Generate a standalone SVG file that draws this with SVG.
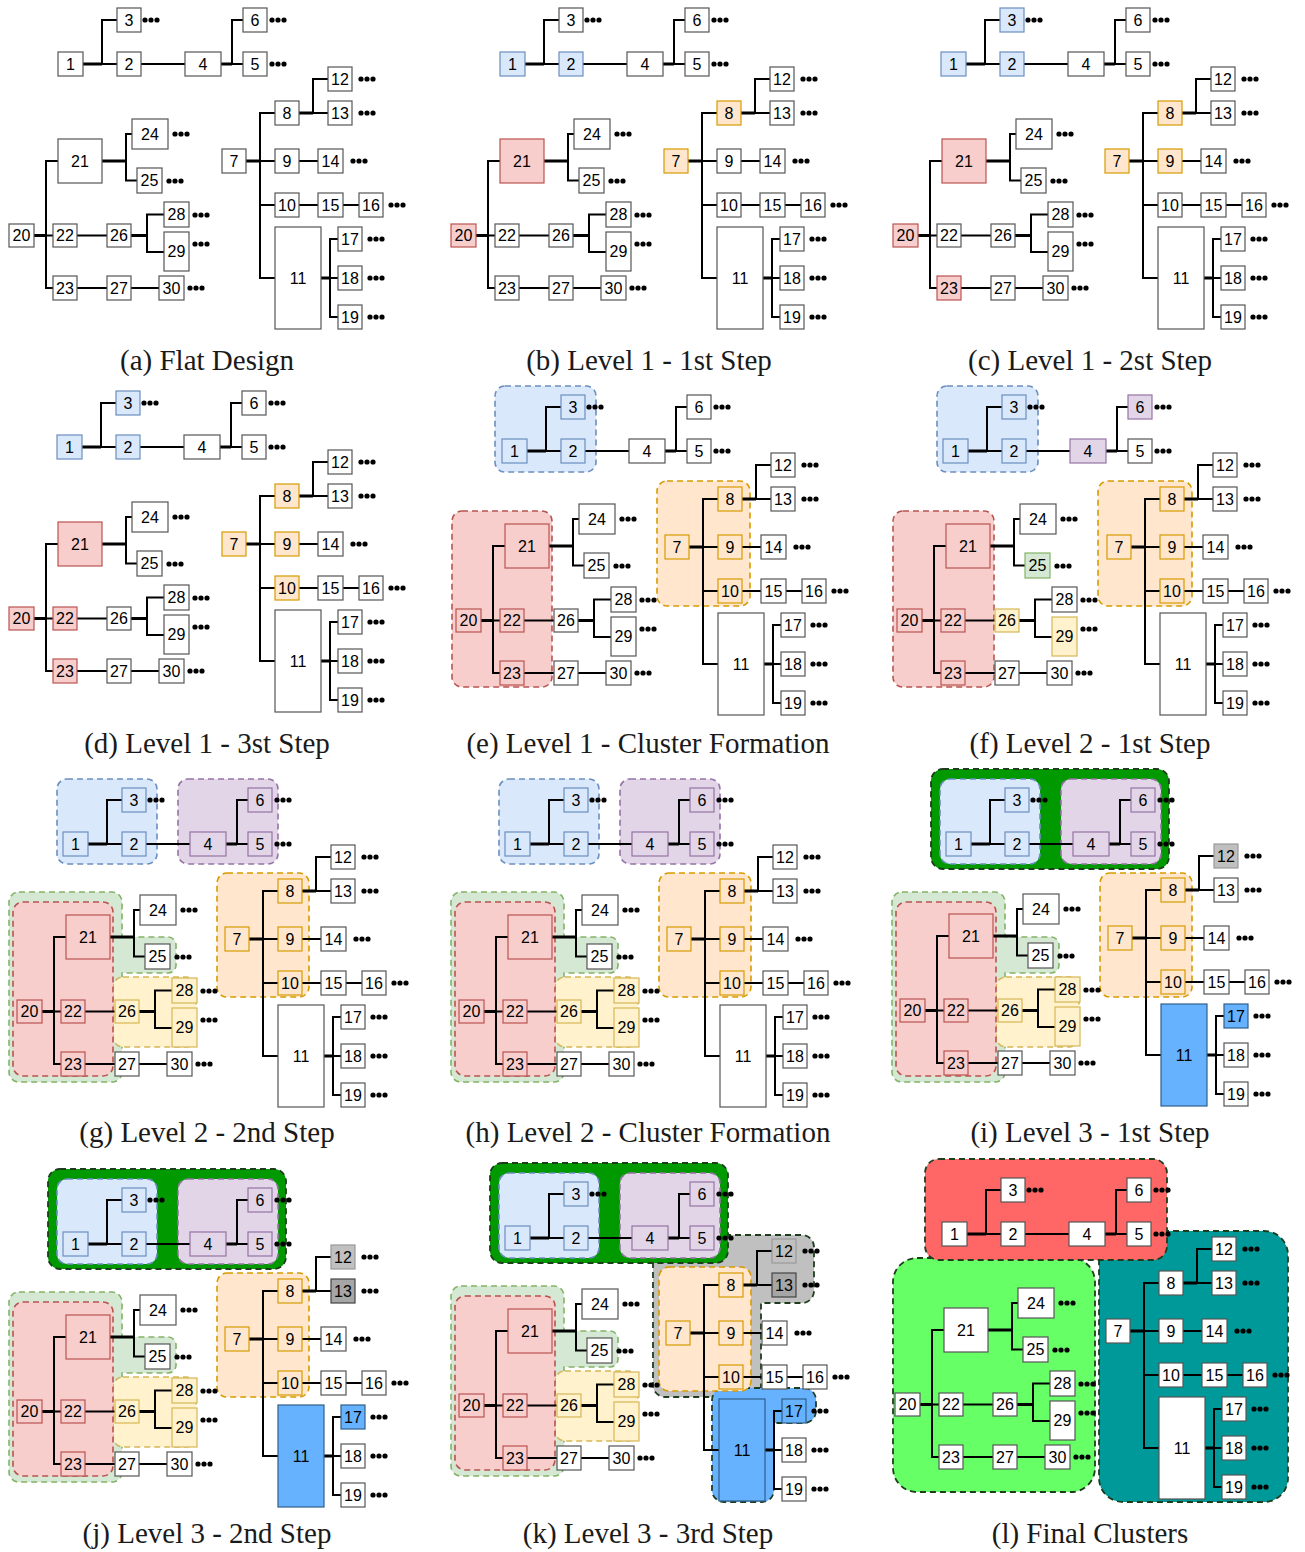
<svg xmlns="http://www.w3.org/2000/svg" xmlns:xlink="http://www.w3.org/1999/xlink" width="1305" height="1552" viewBox="0 0 1305 1552">
<style>
text{font-family:"Liberation Sans",Arial,sans-serif;font-size:16px;text-anchor:middle;fill:#000}
.cap{font-family:"Liberation Serif","Times New Roman",serif;font-size:29px;fill:#1a1a1a}
.nd rect{fill:#fff;stroke:#555;stroke-width:1.2}
.nd .B rect{fill:#dae8fc;stroke:#6c8ebf}
.nd .O rect{fill:#ffe6cc;stroke:#d79b00}
.nd .R rect{fill:#f8cecc;stroke:#b85450}
.nd .G rect{fill:#d5e8d4;stroke:#82b366}
.nd .Y rect{fill:#fff2cc;stroke:#d6b656}
.nd .P rect{fill:#e1d5e7;stroke:#9673a6}
.nd .S rect{fill:#c0c0c0;stroke:#999}
.nd .D rect{fill:#a6a6a6;stroke:#444}
.nd .U rect{fill:#66b2ff;stroke:#2f5f8a}
.wt{fill:none;stroke:#000;stroke-width:2;stroke-linecap:square}
.wk{fill:none;stroke:#000;stroke-width:3}
.cl{stroke-width:1.6;stroke-dasharray:6 4}
.cB{fill:#dae8fc;stroke:#6c8ebf}
.cO{fill:#ffe6cc;stroke:#d79b00}
.cR{fill:#f8cecc;stroke:#b85450}
.cG{fill:#d5e8d4;stroke:#82b366}
.cY{fill:#fff2cc;stroke:#d6b656}
.cP{fill:#e1d5e7;stroke:#9673a6}
.kd{stroke:#1d3d1d;stroke-width:1.8;stroke-dasharray:6 4}
.cK{fill:#009900}
.cS{fill:#c0c0c0}
.cU{fill:#66b2ff}
.fR{fill:#ff6666}
.fG{fill:#66ff66}
.fT{fill:#009999}
.dots circle{fill:#000}
</style>
<defs>
<g id="wT"><path class="wt" d="M83,64H117M102,64V20H117M141,64H185M221,64H243M232,64V20H243"/><path class="wk" d="M83,64H102M221,64H232"/></g>
<g id="wR"><path class="wt" d="M260,113V278M260,113H275M246,161H275M260,205H275M260,278H275M299,113H328M313,113V79H328M299,161H318M299,205H318M343,205H359M321,278H338M330,239V317M330,239H338M330,317H338"/><path class="wk" d="M246,161H260M299,113H313M321,278H330"/></g>
<g id="wL"><path class="wt" d="M46,161V288M46,161H58M34,235.5H53M46,288H53M77,235.5H107M126,134V180.5M126,134H132M126,180.5H137M147,214.5V252M147,214.5H164M147,252H164M77,288H107M131,288H159"/><path class="wk" d="M34,235.5H46M102,161H126M131,235.5H147"/></g>
<g id="d3"><circle cx="0" cy="0" r="2.6"/><circle cx="6" cy="0" r="2.6"/><circle cx="12" cy="0" r="2.6"/></g>
<g id="dT"><use href="#d3" x="145" y="20"/><use href="#d3" x="272" y="20"/><use href="#d3" x="272" y="64"/></g>
<g id="dR"><use href="#d3" x="361" y="79"/><use href="#d3" x="361" y="113"/><use href="#d3" x="353" y="161"/><use href="#d3" x="391" y="205"/><use href="#d3" x="370" y="239"/><use href="#d3" x="370" y="278"/><use href="#d3" x="370" y="317"/></g>
<g id="dL"><use href="#d3" x="175" y="134"/><use href="#d3" x="169" y="181"/><use href="#d3" x="195" y="215"/><use href="#d3" x="195" y="244"/><use href="#d3" x="190" y="288"/></g>
</defs>

<!-- ===== (a) ===== -->
<g id="panel-a">
<g id="a-connectors"><use href="#wT"/><use href="#wR"/><use href="#wL"/></g>
<g id="a-dots" class="dots"><use href="#dT"/><use href="#dR"/><use href="#dL"/></g>
<g class="nd">
<g id="a-n1"><rect x="58" y="52" width="25" height="24"/><text x="70.5" y="69.7">1</text></g>
<g id="a-n2"><rect x="117" y="52" width="24" height="24"/><text x="129" y="69.7">2</text></g>
<g id="a-n3"><rect x="117" y="8" width="24" height="24"/><text x="129" y="25.7">3</text></g>
<g id="a-n4"><rect x="185" y="52" width="36" height="24"/><text x="203" y="69.7">4</text></g>
<g id="a-n5"><rect x="243" y="52" width="24" height="24"/><text x="255" y="69.7">5</text></g>
<g id="a-n6"><rect x="243" y="8" width="24" height="24"/><text x="255" y="25.7">6</text></g>
<g id="a-n7"><rect x="222" y="149" width="24" height="24"/><text x="234" y="166.7">7</text></g>
<g id="a-n8"><rect x="275" y="101" width="24" height="24"/><text x="287" y="118.7">8</text></g>
<g id="a-n9"><rect x="275" y="149" width="24" height="24"/><text x="287" y="166.7">9</text></g>
<g id="a-n10"><rect x="275" y="193" width="24" height="24"/><text x="287" y="210.7">10</text></g>
<g id="a-n11"><rect x="275" y="227" width="46" height="102"/><text x="298" y="283.7">11</text></g>
<g id="a-n12"><rect x="328" y="67" width="24" height="24"/><text x="340" y="84.7">12</text></g>
<g id="a-n13"><rect x="328" y="101" width="24" height="24"/><text x="340" y="118.7">13</text></g>
<g id="a-n14"><rect x="318" y="149" width="25" height="24"/><text x="330.5" y="166.7">14</text></g>
<g id="a-n15"><rect x="318" y="193" width="25" height="24"/><text x="330.5" y="210.7">15</text></g>
<g id="a-n16"><rect x="359" y="193" width="24" height="24"/><text x="371" y="210.7">16</text></g>
<g id="a-n17"><rect x="338" y="227" width="24" height="24"/><text x="350" y="244.7">17</text></g>
<g id="a-n18"><rect x="338" y="266" width="24" height="24"/><text x="350" y="283.7">18</text></g>
<g id="a-n19"><rect x="338" y="305" width="24" height="24"/><text x="350" y="322.7">19</text></g>
<g id="a-n20"><rect x="9" y="224" width="25" height="23"/><text x="21.5" y="241.2">20</text></g>
<g id="a-n21"><rect x="58" y="139" width="44" height="44"/><text x="80" y="166.7">21</text></g>
<g id="a-n22"><rect x="53" y="224" width="24" height="23"/><text x="65" y="241.2">22</text></g>
<g id="a-n23"><rect x="53" y="276" width="24" height="24"/><text x="65" y="293.7">23</text></g>
<g id="a-n24"><rect x="132" y="119" width="36" height="30"/><text x="150" y="139.7">24</text></g>
<g id="a-n25"><rect x="137" y="168" width="25" height="25"/><text x="149.5" y="186.2">25</text></g>
<g id="a-n26"><rect x="107" y="224" width="24" height="23"/><text x="119" y="241.2">26</text></g>
<g id="a-n27"><rect x="107" y="276" width="24" height="24"/><text x="119" y="293.7">27</text></g>
<g id="a-n28"><rect x="164" y="202" width="25" height="25"/><text x="176.5" y="220.2">28</text></g>
<g id="a-n29"><rect x="164" y="232" width="25" height="39"/><text x="176.5" y="257.2">29</text></g>
<g id="a-n30"><rect x="159" y="276" width="25" height="24"/><text x="171.5" y="293.7">30</text></g>
</g>
<text class="cap" x="207" y="370">(a) Flat Design</text>
</g>

<!-- ===== (b) ===== -->
<g id="panel-b">
<g id="b-connectors"><use href="#wT" x="442"/><use href="#wR" x="442"/><use href="#wL" x="442"/></g>
<g id="b-dots" class="dots"><use href="#dT" x="442"/><use href="#dR" x="442"/><use href="#dL" x="442"/></g>
<g class="nd" transform="translate(442,0)">
<g id="b-n1" class="B"><rect x="58" y="52" width="25" height="24"/><text x="70.5" y="69.7">1</text></g>
<g id="b-n2" class="B"><rect x="117" y="52" width="24" height="24"/><text x="129" y="69.7">2</text></g>
<g id="b-n3"><rect x="117" y="8" width="24" height="24"/><text x="129" y="25.7">3</text></g>
<g id="b-n4"><rect x="185" y="52" width="36" height="24"/><text x="203" y="69.7">4</text></g>
<g id="b-n5"><rect x="243" y="52" width="24" height="24"/><text x="255" y="69.7">5</text></g>
<g id="b-n6"><rect x="243" y="8" width="24" height="24"/><text x="255" y="25.7">6</text></g>
<g id="b-n7" class="O"><rect x="222" y="149" width="24" height="24"/><text x="234" y="166.7">7</text></g>
<g id="b-n8" class="O"><rect x="275" y="101" width="24" height="24"/><text x="287" y="118.7">8</text></g>
<g id="b-n9"><rect x="275" y="149" width="24" height="24"/><text x="287" y="166.7">9</text></g>
<g id="b-n10"><rect x="275" y="193" width="24" height="24"/><text x="287" y="210.7">10</text></g>
<g id="b-n11"><rect x="275" y="227" width="46" height="102"/><text x="298" y="283.7">11</text></g>
<g id="b-n12"><rect x="328" y="67" width="24" height="24"/><text x="340" y="84.7">12</text></g>
<g id="b-n13"><rect x="328" y="101" width="24" height="24"/><text x="340" y="118.7">13</text></g>
<g id="b-n14"><rect x="318" y="149" width="25" height="24"/><text x="330.5" y="166.7">14</text></g>
<g id="b-n15"><rect x="318" y="193" width="25" height="24"/><text x="330.5" y="210.7">15</text></g>
<g id="b-n16"><rect x="359" y="193" width="24" height="24"/><text x="371" y="210.7">16</text></g>
<g id="b-n17"><rect x="338" y="227" width="24" height="24"/><text x="350" y="244.7">17</text></g>
<g id="b-n18"><rect x="338" y="266" width="24" height="24"/><text x="350" y="283.7">18</text></g>
<g id="b-n19"><rect x="338" y="305" width="24" height="24"/><text x="350" y="322.7">19</text></g>
<g id="b-n20" class="R"><rect x="9" y="224" width="25" height="23"/><text x="21.5" y="241.2">20</text></g>
<g id="b-n21" class="R"><rect x="58" y="139" width="44" height="44"/><text x="80" y="166.7">21</text></g>
<g id="b-n22"><rect x="53" y="224" width="24" height="23"/><text x="65" y="241.2">22</text></g>
<g id="b-n23"><rect x="53" y="276" width="24" height="24"/><text x="65" y="293.7">23</text></g>
<g id="b-n24"><rect x="132" y="119" width="36" height="30"/><text x="150" y="139.7">24</text></g>
<g id="b-n25"><rect x="137" y="168" width="25" height="25"/><text x="149.5" y="186.2">25</text></g>
<g id="b-n26"><rect x="107" y="224" width="24" height="23"/><text x="119" y="241.2">26</text></g>
<g id="b-n27"><rect x="107" y="276" width="24" height="24"/><text x="119" y="293.7">27</text></g>
<g id="b-n28"><rect x="164" y="202" width="25" height="25"/><text x="176.5" y="220.2">28</text></g>
<g id="b-n29"><rect x="164" y="232" width="25" height="39"/><text x="176.5" y="257.2">29</text></g>
<g id="b-n30"><rect x="159" y="276" width="25" height="24"/><text x="171.5" y="293.7">30</text></g>
</g>
<text class="cap" x="649" y="370">(b) Level 1 - 1st Step</text>
</g>

<!-- ===== (c) ===== -->
<g id="panel-c">
<g id="c-connectors"><use href="#wT" x="883"/><use href="#wR" x="883"/><use href="#wL" x="884"/></g>
<g id="c-dots" class="dots"><use href="#dT" x="883"/><use href="#dR" x="883"/><use href="#dL" x="884"/></g>
<g class="nd" transform="translate(883,0)">
<g id="c-n1" class="B"><rect x="58" y="52" width="25" height="24"/><text x="70.5" y="69.7">1</text></g>
<g id="c-n2" class="B"><rect x="117" y="52" width="24" height="24"/><text x="129" y="69.7">2</text></g>
<g id="c-n3" class="B"><rect x="117" y="8" width="24" height="24"/><text x="129" y="25.7">3</text></g>
<g id="c-n4"><rect x="185" y="52" width="36" height="24"/><text x="203" y="69.7">4</text></g>
<g id="c-n5"><rect x="243" y="52" width="24" height="24"/><text x="255" y="69.7">5</text></g>
<g id="c-n6"><rect x="243" y="8" width="24" height="24"/><text x="255" y="25.7">6</text></g>
<g id="c-n7" class="O"><rect x="222" y="149" width="24" height="24"/><text x="234" y="166.7">7</text></g>
<g id="c-n8" class="O"><rect x="275" y="101" width="24" height="24"/><text x="287" y="118.7">8</text></g>
<g id="c-n9" class="O"><rect x="275" y="149" width="24" height="24"/><text x="287" y="166.7">9</text></g>
<g id="c-n10"><rect x="275" y="193" width="24" height="24"/><text x="287" y="210.7">10</text></g>
<g id="c-n11"><rect x="275" y="227" width="46" height="102"/><text x="298" y="283.7">11</text></g>
<g id="c-n12"><rect x="328" y="67" width="24" height="24"/><text x="340" y="84.7">12</text></g>
<g id="c-n13"><rect x="328" y="101" width="24" height="24"/><text x="340" y="118.7">13</text></g>
<g id="c-n14"><rect x="318" y="149" width="25" height="24"/><text x="330.5" y="166.7">14</text></g>
<g id="c-n15"><rect x="318" y="193" width="25" height="24"/><text x="330.5" y="210.7">15</text></g>
<g id="c-n16"><rect x="359" y="193" width="24" height="24"/><text x="371" y="210.7">16</text></g>
<g id="c-n17"><rect x="338" y="227" width="24" height="24"/><text x="350" y="244.7">17</text></g>
<g id="c-n18"><rect x="338" y="266" width="24" height="24"/><text x="350" y="283.7">18</text></g>
<g id="c-n19"><rect x="338" y="305" width="24" height="24"/><text x="350" y="322.7">19</text></g>
</g>
<g class="nd" transform="translate(884,0)">
<g id="c-n20" class="R"><rect x="9" y="224" width="25" height="23"/><text x="21.5" y="241.2">20</text></g>
<g id="c-n21" class="R"><rect x="58" y="139" width="44" height="44"/><text x="80" y="166.7">21</text></g>
<g id="c-n22"><rect x="53" y="224" width="24" height="23"/><text x="65" y="241.2">22</text></g>
<g id="c-n23" class="R"><rect x="53" y="276" width="24" height="24"/><text x="65" y="293.7">23</text></g>
<g id="c-n24"><rect x="132" y="119" width="36" height="30"/><text x="150" y="139.7">24</text></g>
<g id="c-n25"><rect x="137" y="168" width="25" height="25"/><text x="149.5" y="186.2">25</text></g>
<g id="c-n26"><rect x="107" y="224" width="24" height="23"/><text x="119" y="241.2">26</text></g>
<g id="c-n27"><rect x="107" y="276" width="24" height="24"/><text x="119" y="293.7">27</text></g>
<g id="c-n28"><rect x="164" y="202" width="25" height="25"/><text x="176.5" y="220.2">28</text></g>
<g id="c-n29"><rect x="164" y="232" width="25" height="39"/><text x="176.5" y="257.2">29</text></g>
<g id="c-n30"><rect x="159" y="276" width="25" height="24"/><text x="171.5" y="293.7">30</text></g>
</g>
<text class="cap" x="1090" y="370">(c) Level 1 - 2st Step</text>
</g>

<!-- ===== (d) ===== -->
<g id="panel-d">
<g id="d-connectors"><use href="#wT" x="-1" y="383"/><use href="#wR" y="383"/><use href="#wL" y="383"/></g>
<g id="d-dots" class="dots"><use href="#dT" x="-1" y="383"/><use href="#dR" y="383"/><use href="#dL" y="383"/></g>
<g class="nd" transform="translate(-1,383)">
<g id="d-n1" class="B"><rect x="58" y="52" width="25" height="24"/><text x="70.5" y="69.7">1</text></g>
<g id="d-n2" class="B"><rect x="117" y="52" width="24" height="24"/><text x="129" y="69.7">2</text></g>
<g id="d-n3" class="B"><rect x="117" y="8" width="24" height="24"/><text x="129" y="25.7">3</text></g>
<g id="d-n4"><rect x="185" y="52" width="36" height="24"/><text x="203" y="69.7">4</text></g>
<g id="d-n5"><rect x="243" y="52" width="24" height="24"/><text x="255" y="69.7">5</text></g>
<g id="d-n6"><rect x="243" y="8" width="24" height="24"/><text x="255" y="25.7">6</text></g>
</g>
<g class="nd" transform="translate(0,383)">
<g id="d-n7" class="O"><rect x="222" y="149" width="24" height="24"/><text x="234" y="166.7">7</text></g>
<g id="d-n8" class="O"><rect x="275" y="101" width="24" height="24"/><text x="287" y="118.7">8</text></g>
<g id="d-n9" class="O"><rect x="275" y="149" width="24" height="24"/><text x="287" y="166.7">9</text></g>
<g id="d-n10" class="O"><rect x="275" y="193" width="24" height="24"/><text x="287" y="210.7">10</text></g>
<g id="d-n11"><rect x="275" y="227" width="46" height="102"/><text x="298" y="283.7">11</text></g>
<g id="d-n12"><rect x="328" y="67" width="24" height="24"/><text x="340" y="84.7">12</text></g>
<g id="d-n13"><rect x="328" y="101" width="24" height="24"/><text x="340" y="118.7">13</text></g>
<g id="d-n14"><rect x="318" y="149" width="25" height="24"/><text x="330.5" y="166.7">14</text></g>
<g id="d-n15"><rect x="318" y="193" width="25" height="24"/><text x="330.5" y="210.7">15</text></g>
<g id="d-n16"><rect x="359" y="193" width="24" height="24"/><text x="371" y="210.7">16</text></g>
<g id="d-n17"><rect x="338" y="227" width="24" height="24"/><text x="350" y="244.7">17</text></g>
<g id="d-n18"><rect x="338" y="266" width="24" height="24"/><text x="350" y="283.7">18</text></g>
<g id="d-n19"><rect x="338" y="305" width="24" height="24"/><text x="350" y="322.7">19</text></g>
<g id="d-n20" class="R"><rect x="9" y="224" width="25" height="23"/><text x="21.5" y="241.2">20</text></g>
<g id="d-n21" class="R"><rect x="58" y="139" width="44" height="44"/><text x="80" y="166.7">21</text></g>
<g id="d-n22" class="R"><rect x="53" y="224" width="24" height="23"/><text x="65" y="241.2">22</text></g>
<g id="d-n23" class="R"><rect x="53" y="276" width="24" height="24"/><text x="65" y="293.7">23</text></g>
<g id="d-n24"><rect x="132" y="119" width="36" height="30"/><text x="150" y="139.7">24</text></g>
<g id="d-n25"><rect x="137" y="168" width="25" height="25"/><text x="149.5" y="186.2">25</text></g>
<g id="d-n26"><rect x="107" y="224" width="24" height="23"/><text x="119" y="241.2">26</text></g>
<g id="d-n27"><rect x="107" y="276" width="24" height="24"/><text x="119" y="293.7">27</text></g>
<g id="d-n28"><rect x="164" y="202" width="25" height="25"/><text x="176.5" y="220.2">28</text></g>
<g id="d-n29"><rect x="164" y="232" width="25" height="39"/><text x="176.5" y="257.2">29</text></g>
<g id="d-n30"><rect x="159" y="276" width="25" height="24"/><text x="171.5" y="293.7">30</text></g>
</g>
<text class="cap" x="207" y="753">(d) Level 1 - 3st Step</text>
</g>

<!-- ===== (e) ===== -->
<g id="panel-e">
<g id="e-clusters" class="cl">
<rect class="cB" x="495" y="386" width="101" height="86" rx="10"/>
<rect class="cO" x="657" y="481" width="93" height="125" rx="10"/>
<rect class="cR" x="452" y="511" width="100" height="176" rx="10"/>
</g>
<g id="e-connectors"><use href="#wT" x="444" y="387"/><use href="#wR" x="443" y="386"/><use href="#wL" x="447" y="385"/></g>
<g id="e-dots" class="dots"><use href="#dT" x="444" y="387"/><use href="#dR" x="443" y="386"/><use href="#dL" x="447" y="385"/></g>
<g class="nd" transform="translate(444,387)">
<g id="e-n1" class="B"><rect x="58" y="52" width="25" height="24"/><text x="70.5" y="69.7">1</text></g>
<g id="e-n2" class="B"><rect x="117" y="52" width="24" height="24"/><text x="129" y="69.7">2</text></g>
<g id="e-n3" class="B"><rect x="117" y="8" width="24" height="24"/><text x="129" y="25.7">3</text></g>
<g id="e-n4"><rect x="185" y="52" width="36" height="24"/><text x="203" y="69.7">4</text></g>
<g id="e-n5"><rect x="243" y="52" width="24" height="24"/><text x="255" y="69.7">5</text></g>
<g id="e-n6"><rect x="243" y="8" width="24" height="24"/><text x="255" y="25.7">6</text></g>
</g>
<g class="nd" transform="translate(443,386)">
<g id="e-n7" class="O"><rect x="222" y="149" width="24" height="24"/><text x="234" y="166.7">7</text></g>
<g id="e-n8" class="O"><rect x="275" y="101" width="24" height="24"/><text x="287" y="118.7">8</text></g>
<g id="e-n9" class="O"><rect x="275" y="149" width="24" height="24"/><text x="287" y="166.7">9</text></g>
<g id="e-n10" class="O"><rect x="275" y="193" width="24" height="24"/><text x="287" y="210.7">10</text></g>
<g id="e-n11"><rect x="275" y="227" width="46" height="102"/><text x="298" y="283.7">11</text></g>
<g id="e-n12"><rect x="328" y="67" width="24" height="24"/><text x="340" y="84.7">12</text></g>
<g id="e-n13"><rect x="328" y="101" width="24" height="24"/><text x="340" y="118.7">13</text></g>
<g id="e-n14"><rect x="318" y="149" width="25" height="24"/><text x="330.5" y="166.7">14</text></g>
<g id="e-n15"><rect x="318" y="193" width="25" height="24"/><text x="330.5" y="210.7">15</text></g>
<g id="e-n16"><rect x="359" y="193" width="24" height="24"/><text x="371" y="210.7">16</text></g>
<g id="e-n17"><rect x="338" y="227" width="24" height="24"/><text x="350" y="244.7">17</text></g>
<g id="e-n18"><rect x="338" y="266" width="24" height="24"/><text x="350" y="283.7">18</text></g>
<g id="e-n19"><rect x="338" y="305" width="24" height="24"/><text x="350" y="322.7">19</text></g>
</g>
<g class="nd" transform="translate(447,385)">
<g id="e-n20" class="R"><rect x="9" y="224" width="25" height="23"/><text x="21.5" y="241.2">20</text></g>
<g id="e-n21" class="R"><rect x="58" y="139" width="44" height="44"/><text x="80" y="166.7">21</text></g>
<g id="e-n22" class="R"><rect x="53" y="224" width="24" height="23"/><text x="65" y="241.2">22</text></g>
<g id="e-n23" class="R"><rect x="53" y="276" width="24" height="24"/><text x="65" y="293.7">23</text></g>
<g id="e-n24"><rect x="132" y="119" width="36" height="30"/><text x="150" y="139.7">24</text></g>
<g id="e-n25"><rect x="137" y="168" width="25" height="25"/><text x="149.5" y="186.2">25</text></g>
<g id="e-n26"><rect x="107" y="224" width="24" height="23"/><text x="119" y="241.2">26</text></g>
<g id="e-n27"><rect x="107" y="276" width="24" height="24"/><text x="119" y="293.7">27</text></g>
<g id="e-n28"><rect x="164" y="202" width="25" height="25"/><text x="176.5" y="220.2">28</text></g>
<g id="e-n29"><rect x="164" y="232" width="25" height="39"/><text x="176.5" y="257.2">29</text></g>
<g id="e-n30"><rect x="159" y="276" width="25" height="24"/><text x="171.5" y="293.7">30</text></g>
</g>
<text class="cap" x="648" y="753">(e) Level 1 - Cluster Formation</text>
</g>

<!-- ===== (f) ===== -->
<g id="panel-f">
<g id="f-clusters" class="cl">
<rect class="cB" x="937" y="386" width="101" height="86" rx="10"/>
<rect class="cO" x="1098" y="481" width="94" height="125" rx="10"/>
<rect class="cR" x="893" y="511" width="101" height="176" rx="10"/>
</g>
<g id="f-connectors"><use href="#wT" x="885" y="387"/><use href="#wR" x="885" y="386"/><use href="#wL" x="888" y="385"/></g>
<g id="f-dots" class="dots"><use href="#dT" x="885" y="387"/><use href="#dR" x="885" y="386"/><use href="#dL" x="888" y="385"/></g>
<g class="nd" transform="translate(885,387)">
<g id="f-n1" class="B"><rect x="58" y="52" width="25" height="24"/><text x="70.5" y="69.7">1</text></g>
<g id="f-n2" class="B"><rect x="117" y="52" width="24" height="24"/><text x="129" y="69.7">2</text></g>
<g id="f-n3" class="B"><rect x="117" y="8" width="24" height="24"/><text x="129" y="25.7">3</text></g>
<g id="f-n4" class="P"><rect x="185" y="52" width="36" height="24"/><text x="203" y="69.7">4</text></g>
<g id="f-n5"><rect x="243" y="52" width="24" height="24"/><text x="255" y="69.7">5</text></g>
<g id="f-n6" class="P"><rect x="243" y="8" width="24" height="24"/><text x="255" y="25.7">6</text></g>
</g>
<g class="nd" transform="translate(885,386)">
<g id="f-n7" class="O"><rect x="222" y="149" width="24" height="24"/><text x="234" y="166.7">7</text></g>
<g id="f-n8" class="O"><rect x="275" y="101" width="24" height="24"/><text x="287" y="118.7">8</text></g>
<g id="f-n9" class="O"><rect x="275" y="149" width="24" height="24"/><text x="287" y="166.7">9</text></g>
<g id="f-n10" class="O"><rect x="275" y="193" width="24" height="24"/><text x="287" y="210.7">10</text></g>
<g id="f-n11"><rect x="275" y="227" width="46" height="102"/><text x="298" y="283.7">11</text></g>
<g id="f-n12"><rect x="328" y="67" width="24" height="24"/><text x="340" y="84.7">12</text></g>
<g id="f-n13"><rect x="328" y="101" width="24" height="24"/><text x="340" y="118.7">13</text></g>
<g id="f-n14"><rect x="318" y="149" width="25" height="24"/><text x="330.5" y="166.7">14</text></g>
<g id="f-n15"><rect x="318" y="193" width="25" height="24"/><text x="330.5" y="210.7">15</text></g>
<g id="f-n16"><rect x="359" y="193" width="24" height="24"/><text x="371" y="210.7">16</text></g>
<g id="f-n17"><rect x="338" y="227" width="24" height="24"/><text x="350" y="244.7">17</text></g>
<g id="f-n18"><rect x="338" y="266" width="24" height="24"/><text x="350" y="283.7">18</text></g>
<g id="f-n19"><rect x="338" y="305" width="24" height="24"/><text x="350" y="322.7">19</text></g>
</g>
<g class="nd" transform="translate(888,385)">
<g id="f-n20" class="R"><rect x="9" y="224" width="25" height="23"/><text x="21.5" y="241.2">20</text></g>
<g id="f-n21" class="R"><rect x="58" y="139" width="44" height="44"/><text x="80" y="166.7">21</text></g>
<g id="f-n22" class="R"><rect x="53" y="224" width="24" height="23"/><text x="65" y="241.2">22</text></g>
<g id="f-n23" class="R"><rect x="53" y="276" width="24" height="24"/><text x="65" y="293.7">23</text></g>
<g id="f-n24"><rect x="132" y="119" width="36" height="30"/><text x="150" y="139.7">24</text></g>
<g id="f-n25" class="G"><rect x="137" y="168" width="25" height="25"/><text x="149.5" y="186.2">25</text></g>
<g id="f-n26" class="Y"><rect x="107" y="224" width="24" height="23"/><text x="119" y="241.2">26</text></g>
<g id="f-n27"><rect x="107" y="276" width="24" height="24"/><text x="119" y="293.7">27</text></g>
<g id="f-n28"><rect x="164" y="202" width="25" height="25"/><text x="176.5" y="220.2">28</text></g>
<g id="f-n29" class="Y"><rect x="164" y="232" width="25" height="39"/><text x="176.5" y="257.2">29</text></g>
<g id="f-n30"><rect x="159" y="276" width="25" height="24"/><text x="171.5" y="293.7">30</text></g>
</g>
<text class="cap" x="1090" y="753">(f) Level 2 - 1st Step</text>
</g>

<!-- ===== (g) ===== -->
<g id="panel-g">
<g id="g-clusters" class="cl">
<rect class="cB" x="57" y="779" width="100" height="85" rx="10"/>
<rect class="cP" x="178" y="779" width="100" height="85" rx="10"/>
<rect class="cO" x="217" y="873" width="92" height="124" rx="10"/>
<path class="cG" d="M19,892H112A10,10 0 0 1 122,902V937H168A8,8 0 0 1 176,945V965A8,8 0 0 1 168,973H122V1072A10,10 0 0 1 112,1082H19A10,10 0 0 1 9,1072V902A10,10 0 0 1 19,892Z"/>
<rect class="cY" x="113" y="977" width="83" height="70" rx="10"/>
<rect class="cR" x="13" y="902" width="100" height="174" rx="10"/>
</g>
<g id="g-connectors"><use href="#wT" x="5" y="780"/><use href="#wR" x="3" y="778"/><use href="#wL" x="8" y="776"/></g>
<g id="g-dots" class="dots"><use href="#dT" x="5" y="780"/><use href="#dR" x="3" y="778"/><use href="#dL" x="8" y="776"/></g>
<g class="nd" transform="translate(5,780)">
<g id="g-n1" class="B"><rect x="58" y="52" width="25" height="24"/><text x="70.5" y="69.7">1</text></g>
<g id="g-n2" class="B"><rect x="117" y="52" width="24" height="24"/><text x="129" y="69.7">2</text></g>
<g id="g-n3" class="B"><rect x="117" y="8" width="24" height="24"/><text x="129" y="25.7">3</text></g>
<g id="g-n4" class="P"><rect x="185" y="52" width="36" height="24"/><text x="203" y="69.7">4</text></g>
<g id="g-n5" class="P"><rect x="243" y="52" width="24" height="24"/><text x="255" y="69.7">5</text></g>
<g id="g-n6" class="P"><rect x="243" y="8" width="24" height="24"/><text x="255" y="25.7">6</text></g>
</g>
<g class="nd" transform="translate(3,778)">
<g id="g-n7" class="O"><rect x="222" y="149" width="24" height="24"/><text x="234" y="166.7">7</text></g>
<g id="g-n8" class="O"><rect x="275" y="101" width="24" height="24"/><text x="287" y="118.7">8</text></g>
<g id="g-n9" class="O"><rect x="275" y="149" width="24" height="24"/><text x="287" y="166.7">9</text></g>
<g id="g-n10" class="O"><rect x="275" y="193" width="24" height="24"/><text x="287" y="210.7">10</text></g>
<g id="g-n11"><rect x="275" y="227" width="46" height="102"/><text x="298" y="283.7">11</text></g>
<g id="g-n12"><rect x="328" y="67" width="24" height="24"/><text x="340" y="84.7">12</text></g>
<g id="g-n13"><rect x="328" y="101" width="24" height="24"/><text x="340" y="118.7">13</text></g>
<g id="g-n14"><rect x="318" y="149" width="25" height="24"/><text x="330.5" y="166.7">14</text></g>
<g id="g-n15"><rect x="318" y="193" width="25" height="24"/><text x="330.5" y="210.7">15</text></g>
<g id="g-n16"><rect x="359" y="193" width="24" height="24"/><text x="371" y="210.7">16</text></g>
<g id="g-n17"><rect x="338" y="227" width="24" height="24"/><text x="350" y="244.7">17</text></g>
<g id="g-n18"><rect x="338" y="266" width="24" height="24"/><text x="350" y="283.7">18</text></g>
<g id="g-n19"><rect x="338" y="305" width="24" height="24"/><text x="350" y="322.7">19</text></g>
</g>
<g class="nd" transform="translate(8,776)">
<g id="g-n20" class="R"><rect x="9" y="224" width="25" height="23"/><text x="21.5" y="241.2">20</text></g>
<g id="g-n21" class="R"><rect x="58" y="139" width="44" height="44"/><text x="80" y="166.7">21</text></g>
<g id="g-n22" class="R"><rect x="53" y="224" width="24" height="23"/><text x="65" y="241.2">22</text></g>
<g id="g-n23" class="R"><rect x="53" y="276" width="24" height="24"/><text x="65" y="293.7">23</text></g>
<g id="g-n24"><rect x="132" y="119" width="36" height="30"/><text x="150" y="139.7">24</text></g>
<g id="g-n25"><rect x="137" y="168" width="25" height="25"/><text x="149.5" y="186.2">25</text></g>
<g id="g-n26" class="Y"><rect x="107" y="224" width="24" height="23"/><text x="119" y="241.2">26</text></g>
<g id="g-n27"><rect x="107" y="276" width="24" height="24"/><text x="119" y="293.7">27</text></g>
<g id="g-n28" class="Y"><rect x="164" y="202" width="25" height="25"/><text x="176.5" y="220.2">28</text></g>
<g id="g-n29" class="Y"><rect x="164" y="232" width="25" height="39"/><text x="176.5" y="257.2">29</text></g>
<g id="g-n30"><rect x="159" y="276" width="25" height="24"/><text x="171.5" y="293.7">30</text></g>
</g>
<text class="cap" x="207" y="1142">(g) Level 2 - 2nd Step</text>
</g>

<!-- ===== (h) ===== -->
<g id="panel-h">
<g id="h-clusters" class="cl" transform="translate(442,0)">
<rect class="cB" x="57" y="779" width="100" height="85" rx="10"/>
<rect class="cP" x="178" y="779" width="100" height="85" rx="10"/>
<rect class="cO" x="217" y="873" width="92" height="124" rx="10"/>
<path class="cG" d="M19,892H112A10,10 0 0 1 122,902V937H168A8,8 0 0 1 176,945V965A8,8 0 0 1 168,973H122V1072A10,10 0 0 1 112,1082H19A10,10 0 0 1 9,1072V902A10,10 0 0 1 19,892Z"/>
<rect class="cY" x="113" y="977" width="83" height="70" rx="10"/>
<rect class="cR" x="13" y="902" width="100" height="174" rx="10"/>
</g>
<g id="h-connectors"><use href="#wT" x="447" y="780"/><use href="#wR" x="445" y="778"/><use href="#wL" x="450" y="776"/></g>
<g id="h-dots" class="dots"><use href="#dT" x="447" y="780"/><use href="#dR" x="445" y="778"/><use href="#dL" x="450" y="776"/></g>
<g class="nd" transform="translate(447,780)">
<g id="h-n1" class="B"><rect x="58" y="52" width="25" height="24"/><text x="70.5" y="69.7">1</text></g>
<g id="h-n2" class="B"><rect x="117" y="52" width="24" height="24"/><text x="129" y="69.7">2</text></g>
<g id="h-n3" class="B"><rect x="117" y="8" width="24" height="24"/><text x="129" y="25.7">3</text></g>
<g id="h-n4" class="P"><rect x="185" y="52" width="36" height="24"/><text x="203" y="69.7">4</text></g>
<g id="h-n5" class="P"><rect x="243" y="52" width="24" height="24"/><text x="255" y="69.7">5</text></g>
<g id="h-n6" class="P"><rect x="243" y="8" width="24" height="24"/><text x="255" y="25.7">6</text></g>
</g>
<g class="nd" transform="translate(445,778)">
<g id="h-n7" class="O"><rect x="222" y="149" width="24" height="24"/><text x="234" y="166.7">7</text></g>
<g id="h-n8" class="O"><rect x="275" y="101" width="24" height="24"/><text x="287" y="118.7">8</text></g>
<g id="h-n9" class="O"><rect x="275" y="149" width="24" height="24"/><text x="287" y="166.7">9</text></g>
<g id="h-n10" class="O"><rect x="275" y="193" width="24" height="24"/><text x="287" y="210.7">10</text></g>
<g id="h-n11"><rect x="275" y="227" width="46" height="102"/><text x="298" y="283.7">11</text></g>
<g id="h-n12"><rect x="328" y="67" width="24" height="24"/><text x="340" y="84.7">12</text></g>
<g id="h-n13"><rect x="328" y="101" width="24" height="24"/><text x="340" y="118.7">13</text></g>
<g id="h-n14"><rect x="318" y="149" width="25" height="24"/><text x="330.5" y="166.7">14</text></g>
<g id="h-n15"><rect x="318" y="193" width="25" height="24"/><text x="330.5" y="210.7">15</text></g>
<g id="h-n16"><rect x="359" y="193" width="24" height="24"/><text x="371" y="210.7">16</text></g>
<g id="h-n17"><rect x="338" y="227" width="24" height="24"/><text x="350" y="244.7">17</text></g>
<g id="h-n18"><rect x="338" y="266" width="24" height="24"/><text x="350" y="283.7">18</text></g>
<g id="h-n19"><rect x="338" y="305" width="24" height="24"/><text x="350" y="322.7">19</text></g>
</g>
<g class="nd" transform="translate(450,776)">
<g id="h-n20" class="R"><rect x="9" y="224" width="25" height="23"/><text x="21.5" y="241.2">20</text></g>
<g id="h-n21" class="R"><rect x="58" y="139" width="44" height="44"/><text x="80" y="166.7">21</text></g>
<g id="h-n22" class="R"><rect x="53" y="224" width="24" height="23"/><text x="65" y="241.2">22</text></g>
<g id="h-n23" class="R"><rect x="53" y="276" width="24" height="24"/><text x="65" y="293.7">23</text></g>
<g id="h-n24"><rect x="132" y="119" width="36" height="30"/><text x="150" y="139.7">24</text></g>
<g id="h-n25"><rect x="137" y="168" width="25" height="25"/><text x="149.5" y="186.2">25</text></g>
<g id="h-n26" class="Y"><rect x="107" y="224" width="24" height="23"/><text x="119" y="241.2">26</text></g>
<g id="h-n27"><rect x="107" y="276" width="24" height="24"/><text x="119" y="293.7">27</text></g>
<g id="h-n28" class="Y"><rect x="164" y="202" width="25" height="25"/><text x="176.5" y="220.2">28</text></g>
<g id="h-n29" class="Y"><rect x="164" y="232" width="25" height="39"/><text x="176.5" y="257.2">29</text></g>
<g id="h-n30"><rect x="159" y="276" width="25" height="24"/><text x="171.5" y="293.7">30</text></g>
</g>
<text class="cap" x="648" y="1142">(h) Level 2 - Cluster Formation</text>
</g>

<!-- ===== (i) ===== -->
<g id="panel-i">
<g id="i-clusters" transform="translate(883,0)">
<rect class="cK kd" x="48" y="769" width="238" height="100" rx="12"/>
<g class="cl">
<rect class="cB" x="57" y="779" width="100" height="85" rx="10"/>
<rect class="cP" x="178" y="779" width="100" height="85" rx="10"/>
<rect class="cO" x="217" y="873" width="92" height="124" rx="10"/>
<path class="cG" d="M19,892H112A10,10 0 0 1 122,902V937H168A8,8 0 0 1 176,945V965A8,8 0 0 1 168,973H122V1072A10,10 0 0 1 112,1082H19A10,10 0 0 1 9,1072V902A10,10 0 0 1 19,892Z"/>
<rect class="cY" x="113" y="977" width="83" height="70" rx="10"/>
<rect class="cR" x="13" y="902" width="100" height="174" rx="10"/>
</g>
</g>
<g id="i-connectors"><use href="#wT" x="888" y="780"/><use href="#wR" x="886" y="777"/><use href="#wL" x="891" y="775"/></g>
<g id="i-dots" class="dots"><use href="#dT" x="888" y="780"/><use href="#dR" x="886" y="777"/><use href="#dL" x="891" y="775"/></g>
<g class="nd" transform="translate(888,780)">
<g id="i-n1" class="B"><rect x="58" y="52" width="25" height="24"/><text x="70.5" y="69.7">1</text></g>
<g id="i-n2" class="B"><rect x="117" y="52" width="24" height="24"/><text x="129" y="69.7">2</text></g>
<g id="i-n3" class="B"><rect x="117" y="8" width="24" height="24"/><text x="129" y="25.7">3</text></g>
<g id="i-n4" class="P"><rect x="185" y="52" width="36" height="24"/><text x="203" y="69.7">4</text></g>
<g id="i-n5" class="P"><rect x="243" y="52" width="24" height="24"/><text x="255" y="69.7">5</text></g>
<g id="i-n6" class="P"><rect x="243" y="8" width="24" height="24"/><text x="255" y="25.7">6</text></g>
</g>
<g class="nd" transform="translate(886,777)">
<g id="i-n7" class="O"><rect x="222" y="149" width="24" height="24"/><text x="234" y="166.7">7</text></g>
<g id="i-n8" class="O"><rect x="275" y="101" width="24" height="24"/><text x="287" y="118.7">8</text></g>
<g id="i-n9" class="O"><rect x="275" y="149" width="24" height="24"/><text x="287" y="166.7">9</text></g>
<g id="i-n10" class="O"><rect x="275" y="193" width="24" height="24"/><text x="287" y="210.7">10</text></g>
<g id="i-n11" class="U"><rect x="275" y="227" width="46" height="102"/><text x="298" y="283.7">11</text></g>
<g id="i-n12" class="S"><rect x="328" y="67" width="24" height="24"/><text x="340" y="84.7">12</text></g>
<g id="i-n13"><rect x="328" y="101" width="24" height="24"/><text x="340" y="118.7">13</text></g>
<g id="i-n14"><rect x="318" y="149" width="25" height="24"/><text x="330.5" y="166.7">14</text></g>
<g id="i-n15"><rect x="318" y="193" width="25" height="24"/><text x="330.5" y="210.7">15</text></g>
<g id="i-n16"><rect x="359" y="193" width="24" height="24"/><text x="371" y="210.7">16</text></g>
<g id="i-n17" class="U"><rect x="338" y="227" width="24" height="24"/><text x="350" y="244.7">17</text></g>
<g id="i-n18"><rect x="338" y="266" width="24" height="24"/><text x="350" y="283.7">18</text></g>
<g id="i-n19"><rect x="338" y="305" width="24" height="24"/><text x="350" y="322.7">19</text></g>
</g>
<g class="nd" transform="translate(891,775)">
<g id="i-n20" class="R"><rect x="9" y="224" width="25" height="23"/><text x="21.5" y="241.2">20</text></g>
<g id="i-n21" class="R"><rect x="58" y="139" width="44" height="44"/><text x="80" y="166.7">21</text></g>
<g id="i-n22" class="R"><rect x="53" y="224" width="24" height="23"/><text x="65" y="241.2">22</text></g>
<g id="i-n23" class="R"><rect x="53" y="276" width="24" height="24"/><text x="65" y="293.7">23</text></g>
<g id="i-n24"><rect x="132" y="119" width="36" height="30"/><text x="150" y="139.7">24</text></g>
<g id="i-n25"><rect x="137" y="168" width="25" height="25"/><text x="149.5" y="186.2">25</text></g>
<g id="i-n26" class="Y"><rect x="107" y="224" width="24" height="23"/><text x="119" y="241.2">26</text></g>
<g id="i-n27"><rect x="107" y="276" width="24" height="24"/><text x="119" y="293.7">27</text></g>
<g id="i-n28" class="Y"><rect x="164" y="202" width="25" height="25"/><text x="176.5" y="220.2">28</text></g>
<g id="i-n29" class="Y"><rect x="164" y="232" width="25" height="39"/><text x="176.5" y="257.2">29</text></g>
<g id="i-n30"><rect x="159" y="276" width="25" height="24"/><text x="171.5" y="293.7">30</text></g>
</g>
<text class="cap" x="1090" y="1142">(i) Level 3 - 1st Step</text>
</g>

<!-- ===== (j) ===== -->
<g id="panel-j">
<g id="j-clusters" transform="translate(0,400)">
<rect class="cK kd" x="48" y="769" width="238" height="100" rx="12"/>
<g class="cl">
<rect class="cB" x="57" y="779" width="100" height="85" rx="10"/>
<rect class="cP" x="178" y="779" width="100" height="85" rx="10"/>
<rect class="cO" x="217" y="873" width="92" height="124" rx="10"/>
<path class="cG" d="M19,892H112A10,10 0 0 1 122,902V937H168A8,8 0 0 1 176,945V965A8,8 0 0 1 168,973H122V1072A10,10 0 0 1 112,1082H19A10,10 0 0 1 9,1072V902A10,10 0 0 1 19,892Z"/>
<rect class="cY" x="113" y="977" width="83" height="70" rx="10"/>
<rect class="cR" x="13" y="902" width="100" height="174" rx="10"/>
</g>
</g>
<g id="j-connectors"><use href="#wT" x="5" y="1180"/><use href="#wR" x="3" y="1178"/><use href="#wL" x="8" y="1176"/></g>
<g id="j-dots" class="dots"><use href="#dT" x="5" y="1180"/><use href="#dR" x="3" y="1178"/><use href="#dL" x="8" y="1176"/></g>
<g class="nd" transform="translate(5,1180)">
<g id="j-n1" class="B"><rect x="58" y="52" width="25" height="24"/><text x="70.5" y="69.7">1</text></g>
<g id="j-n2" class="B"><rect x="117" y="52" width="24" height="24"/><text x="129" y="69.7">2</text></g>
<g id="j-n3" class="B"><rect x="117" y="8" width="24" height="24"/><text x="129" y="25.7">3</text></g>
<g id="j-n4" class="P"><rect x="185" y="52" width="36" height="24"/><text x="203" y="69.7">4</text></g>
<g id="j-n5" class="P"><rect x="243" y="52" width="24" height="24"/><text x="255" y="69.7">5</text></g>
<g id="j-n6" class="P"><rect x="243" y="8" width="24" height="24"/><text x="255" y="25.7">6</text></g>
</g>
<g class="nd" transform="translate(3,1178)">
<g id="j-n7" class="O"><rect x="222" y="149" width="24" height="24"/><text x="234" y="166.7">7</text></g>
<g id="j-n8" class="O"><rect x="275" y="101" width="24" height="24"/><text x="287" y="118.7">8</text></g>
<g id="j-n9" class="O"><rect x="275" y="149" width="24" height="24"/><text x="287" y="166.7">9</text></g>
<g id="j-n10" class="O"><rect x="275" y="193" width="24" height="24"/><text x="287" y="210.7">10</text></g>
<g id="j-n11" class="U"><rect x="275" y="227" width="46" height="102"/><text x="298" y="283.7">11</text></g>
<g id="j-n12" class="S"><rect x="328" y="67" width="24" height="24"/><text x="340" y="84.7">12</text></g>
<g id="j-n13" class="D"><rect x="328" y="101" width="24" height="24"/><text x="340" y="118.7">13</text></g>
<g id="j-n14"><rect x="318" y="149" width="25" height="24"/><text x="330.5" y="166.7">14</text></g>
<g id="j-n15"><rect x="318" y="193" width="25" height="24"/><text x="330.5" y="210.7">15</text></g>
<g id="j-n16"><rect x="359" y="193" width="24" height="24"/><text x="371" y="210.7">16</text></g>
<g id="j-n17" class="U"><rect x="338" y="227" width="24" height="24"/><text x="350" y="244.7">17</text></g>
<g id="j-n18"><rect x="338" y="266" width="24" height="24"/><text x="350" y="283.7">18</text></g>
<g id="j-n19"><rect x="338" y="305" width="24" height="24"/><text x="350" y="322.7">19</text></g>
</g>
<g class="nd" transform="translate(8,1176)">
<g id="j-n20" class="R"><rect x="9" y="224" width="25" height="23"/><text x="21.5" y="241.2">20</text></g>
<g id="j-n21" class="R"><rect x="58" y="139" width="44" height="44"/><text x="80" y="166.7">21</text></g>
<g id="j-n22" class="R"><rect x="53" y="224" width="24" height="23"/><text x="65" y="241.2">22</text></g>
<g id="j-n23" class="R"><rect x="53" y="276" width="24" height="24"/><text x="65" y="293.7">23</text></g>
<g id="j-n24"><rect x="132" y="119" width="36" height="30"/><text x="150" y="139.7">24</text></g>
<g id="j-n25"><rect x="137" y="168" width="25" height="25"/><text x="149.5" y="186.2">25</text></g>
<g id="j-n26" class="Y"><rect x="107" y="224" width="24" height="23"/><text x="119" y="241.2">26</text></g>
<g id="j-n27"><rect x="107" y="276" width="24" height="24"/><text x="119" y="293.7">27</text></g>
<g id="j-n28" class="Y"><rect x="164" y="202" width="25" height="25"/><text x="176.5" y="220.2">28</text></g>
<g id="j-n29" class="Y"><rect x="164" y="232" width="25" height="39"/><text x="176.5" y="257.2">29</text></g>
<g id="j-n30"><rect x="159" y="276" width="25" height="24"/><text x="171.5" y="293.7">30</text></g>
</g>
<text class="cap" x="207" y="1543">(j) Level 3 - 2nd Step</text>
</g>

<!-- ===== (k) ===== -->
<g id="panel-k">
<g id="k-clusters">
<path class="cS kd" d="M665,1235H802A12,12 0 0 1 814,1247V1291A12,12 0 0 1 802,1303H761V1385A12,12 0 0 1 749,1397H665A12,12 0 0 1 653,1385V1247A12,12 0 0 1 665,1235Z"/>
<g transform="translate(442,394)">
<rect class="cK kd" x="48" y="769" width="238" height="100" rx="12"/>
<g class="cl">
<rect class="cB" x="57" y="779" width="100" height="85" rx="10"/>
<rect class="cP" x="178" y="779" width="100" height="85" rx="10"/>
<path class="cG" d="M19,892H112A10,10 0 0 1 122,902V937H168A8,8 0 0 1 176,945V965A8,8 0 0 1 168,973H122V1072A10,10 0 0 1 112,1082H19A10,10 0 0 1 9,1072V902A10,10 0 0 1 19,892Z"/>
<rect class="cY" x="113" y="977" width="83" height="70" rx="10"/>
<rect class="cR" x="13" y="902" width="100" height="174" rx="10"/>
</g>
</g>
<path class="cU kd" d="M724,1388H804A12,12 0 0 1 816,1400V1411A12,12 0 0 1 804,1423H774V1490A12,12 0 0 1 762,1502H724A12,12 0 0 1 712,1490V1400A12,12 0 0 1 724,1388Z"/>
<rect class="cO cl" x="659" y="1267" width="92" height="124" rx="10"/>
</g>
<g id="k-connectors"><use href="#wT" x="447" y="1174"/><use href="#wR" x="444" y="1172"/><use href="#wL" x="450" y="1170"/></g>
<g id="k-dots" class="dots"><use href="#dT" x="447" y="1174"/><use href="#dR" x="444" y="1172"/><use href="#dL" x="450" y="1170"/></g>
<g class="nd" transform="translate(447,1174)">
<g id="k-n1" class="B"><rect x="58" y="52" width="25" height="24"/><text x="70.5" y="69.7">1</text></g>
<g id="k-n2" class="B"><rect x="117" y="52" width="24" height="24"/><text x="129" y="69.7">2</text></g>
<g id="k-n3" class="B"><rect x="117" y="8" width="24" height="24"/><text x="129" y="25.7">3</text></g>
<g id="k-n4" class="P"><rect x="185" y="52" width="36" height="24"/><text x="203" y="69.7">4</text></g>
<g id="k-n5" class="P"><rect x="243" y="52" width="24" height="24"/><text x="255" y="69.7">5</text></g>
<g id="k-n6" class="P"><rect x="243" y="8" width="24" height="24"/><text x="255" y="25.7">6</text></g>
</g>
<g class="nd" transform="translate(444,1172)">
<g id="k-n7" class="O"><rect x="222" y="149" width="24" height="24"/><text x="234" y="166.7">7</text></g>
<g id="k-n8" class="O"><rect x="275" y="101" width="24" height="24"/><text x="287" y="118.7">8</text></g>
<g id="k-n9" class="O"><rect x="275" y="149" width="24" height="24"/><text x="287" y="166.7">9</text></g>
<g id="k-n10" class="O"><rect x="275" y="193" width="24" height="24"/><text x="287" y="210.7">10</text></g>
<g id="k-n11" class="U"><rect x="275" y="227" width="46" height="102"/><text x="298" y="283.7">11</text></g>
<g id="k-n12" class="S"><rect x="328" y="67" width="24" height="24"/><text x="340" y="84.7">12</text></g>
<g id="k-n13" class="D"><rect x="328" y="101" width="24" height="24"/><text x="340" y="118.7">13</text></g>
<g id="k-n14"><rect x="318" y="149" width="25" height="24"/><text x="330.5" y="166.7">14</text></g>
<g id="k-n15"><rect x="318" y="193" width="25" height="24"/><text x="330.5" y="210.7">15</text></g>
<g id="k-n16"><rect x="359" y="193" width="24" height="24"/><text x="371" y="210.7">16</text></g>
<g id="k-n17" class="U"><rect x="338" y="227" width="24" height="24"/><text x="350" y="244.7">17</text></g>
<g id="k-n18"><rect x="338" y="266" width="24" height="24"/><text x="350" y="283.7">18</text></g>
<g id="k-n19"><rect x="338" y="305" width="24" height="24"/><text x="350" y="322.7">19</text></g>
</g>
<g class="nd" transform="translate(450,1170)">
<g id="k-n20" class="R"><rect x="9" y="224" width="25" height="23"/><text x="21.5" y="241.2">20</text></g>
<g id="k-n21" class="R"><rect x="58" y="139" width="44" height="44"/><text x="80" y="166.7">21</text></g>
<g id="k-n22" class="R"><rect x="53" y="224" width="24" height="23"/><text x="65" y="241.2">22</text></g>
<g id="k-n23" class="R"><rect x="53" y="276" width="24" height="24"/><text x="65" y="293.7">23</text></g>
<g id="k-n24"><rect x="132" y="119" width="36" height="30"/><text x="150" y="139.7">24</text></g>
<g id="k-n25"><rect x="137" y="168" width="25" height="25"/><text x="149.5" y="186.2">25</text></g>
<g id="k-n26" class="Y"><rect x="107" y="224" width="24" height="23"/><text x="119" y="241.2">26</text></g>
<g id="k-n27"><rect x="107" y="276" width="24" height="24"/><text x="119" y="293.7">27</text></g>
<g id="k-n28" class="Y"><rect x="164" y="202" width="25" height="25"/><text x="176.5" y="220.2">28</text></g>
<g id="k-n29" class="Y"><rect x="164" y="232" width="25" height="39"/><text x="176.5" y="257.2">29</text></g>
<g id="k-n30"><rect x="159" y="276" width="25" height="24"/><text x="171.5" y="293.7">30</text></g>
</g>
<text class="cap" x="648" y="1543">(k) Level 3 - 3rd Step</text>
</g>

<!-- ===== (l) ===== -->
<g id="panel-l">
<g id="l-clusters" class="kd">
<rect class="fT" x="1099" y="1231" width="189" height="271" rx="24"/>
<rect class="fG" x="893" y="1258" width="202" height="234" rx="24"/>
<rect class="fR" x="925" y="1159" width="242" height="101" rx="14"/>
</g>
<g id="l-connectors"><use href="#wT" x="884" y="1170"/><use href="#wR" x="884" y="1170"/><use href="#wL" x="886" y="1169"/></g>
<g id="l-dots" class="dots"><use href="#dT" x="884" y="1170"/><use href="#dR" x="884" y="1170"/><use href="#dL" x="886" y="1169"/></g>
<g class="nd" transform="translate(884,1170)">
<g id="l-n1"><rect x="58" y="52" width="25" height="24"/><text x="70.5" y="69.7">1</text></g>
<g id="l-n2"><rect x="117" y="52" width="24" height="24"/><text x="129" y="69.7">2</text></g>
<g id="l-n3"><rect x="117" y="8" width="24" height="24"/><text x="129" y="25.7">3</text></g>
<g id="l-n4"><rect x="185" y="52" width="36" height="24"/><text x="203" y="69.7">4</text></g>
<g id="l-n5"><rect x="243" y="52" width="24" height="24"/><text x="255" y="69.7">5</text></g>
<g id="l-n6"><rect x="243" y="8" width="24" height="24"/><text x="255" y="25.7">6</text></g>
<g id="l-n7"><rect x="222" y="149" width="24" height="24"/><text x="234" y="166.7">7</text></g>
<g id="l-n8"><rect x="275" y="101" width="24" height="24"/><text x="287" y="118.7">8</text></g>
<g id="l-n9"><rect x="275" y="149" width="24" height="24"/><text x="287" y="166.7">9</text></g>
<g id="l-n10"><rect x="275" y="193" width="24" height="24"/><text x="287" y="210.7">10</text></g>
<g id="l-n11"><rect x="275" y="227" width="46" height="102"/><text x="298" y="283.7">11</text></g>
<g id="l-n12"><rect x="328" y="67" width="24" height="24"/><text x="340" y="84.7">12</text></g>
<g id="l-n13"><rect x="328" y="101" width="24" height="24"/><text x="340" y="118.7">13</text></g>
<g id="l-n14"><rect x="318" y="149" width="25" height="24"/><text x="330.5" y="166.7">14</text></g>
<g id="l-n15"><rect x="318" y="193" width="25" height="24"/><text x="330.5" y="210.7">15</text></g>
<g id="l-n16"><rect x="359" y="193" width="24" height="24"/><text x="371" y="210.7">16</text></g>
<g id="l-n17"><rect x="338" y="227" width="24" height="24"/><text x="350" y="244.7">17</text></g>
<g id="l-n18"><rect x="338" y="266" width="24" height="24"/><text x="350" y="283.7">18</text></g>
<g id="l-n19"><rect x="338" y="305" width="24" height="24"/><text x="350" y="322.7">19</text></g>
</g>
<g class="nd" transform="translate(886,1169)">
<g id="l-n20"><rect x="9" y="224" width="25" height="23"/><text x="21.5" y="241.2">20</text></g>
<g id="l-n21"><rect x="58" y="139" width="44" height="44"/><text x="80" y="166.7">21</text></g>
<g id="l-n22"><rect x="53" y="224" width="24" height="23"/><text x="65" y="241.2">22</text></g>
<g id="l-n23"><rect x="53" y="276" width="24" height="24"/><text x="65" y="293.7">23</text></g>
<g id="l-n24"><rect x="132" y="119" width="36" height="30"/><text x="150" y="139.7">24</text></g>
<g id="l-n25"><rect x="137" y="168" width="25" height="25"/><text x="149.5" y="186.2">25</text></g>
<g id="l-n26"><rect x="107" y="224" width="24" height="23"/><text x="119" y="241.2">26</text></g>
<g id="l-n27"><rect x="107" y="276" width="24" height="24"/><text x="119" y="293.7">27</text></g>
<g id="l-n28"><rect x="164" y="202" width="25" height="25"/><text x="176.5" y="220.2">28</text></g>
<g id="l-n29"><rect x="164" y="232" width="25" height="39"/><text x="176.5" y="257.2">29</text></g>
<g id="l-n30"><rect x="159" y="276" width="25" height="24"/><text x="171.5" y="293.7">30</text></g>
</g>
<text class="cap" x="1090" y="1543">(l) Final Clusters</text>
</g>
</svg>
